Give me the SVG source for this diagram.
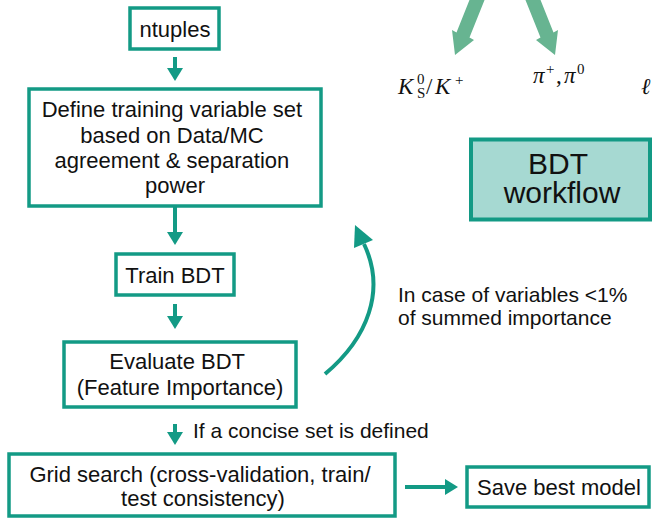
<svg xmlns="http://www.w3.org/2000/svg" width="652" height="518" viewBox="0 0 652 518">
  <style>
    .box { fill: #ffffff; stroke: #139a85; stroke-width: 3.5; }
    .title { fill: #a6d9d2; stroke: #139a85; stroke-width: 4; }
    .lbl { font-family: "Liberation Sans", Arial, sans-serif; font-size: 22px; fill: #111111; }
    .note { font-family: "Liberation Sans", Arial, sans-serif; font-size: 21px; fill: #111111; }
    .big { font-family: "Liberation Sans", Arial, sans-serif; font-size: 30px; fill: #111111; }
    .link { stroke: #139a85; stroke-width: 4; fill: none; }
    .math { font-family: "Liberation Serif", "DejaVu Serif", serif; font-size: 23px; fill: #111111; }
    .mi { font-style: italic; }
    .sm { font-size: 15px; }
    .decay { fill: #67b491; }
  </style>
  <defs>
    <marker id="head" markerUnits="userSpaceOnUse" markerWidth="14" markerHeight="18" refX="0" refY="9" orient="auto" overflow="visible">
      <path d="M0,1 L13,9 L0,17 z" fill="#139a85"/>
    </marker>
  </defs>

  <!-- decay arrows and final-state labels -->
  <g id="decay">
    <polygon class="decay" points="455,55 452,30 456.5,32.4 472.5,-7.6 485.5,-2.4 469.5,37.6 474,40"/>
    <polygon class="decay" points="555,55 558,30 553.5,32.4 537.5,-7.6 524.5,-2.4 540.5,37.6 536,40"/>
    <text class="math mi" x="398" y="94">K</text>
    <text class="math sm" x="417" y="84">0</text>
    <text class="math sm" x="417" y="98">S</text>
    <text class="math" x="426" y="94">/</text>
    <text class="math mi" x="435" y="94">K</text>
    <text class="math sm" x="455" y="85">+</text>
    <text class="math mi" x="533" y="83">π</text>
    <text class="math sm" x="546" y="74">+</text>
    <text class="math" x="556" y="83">,</text>
    <text class="math mi" x="564" y="83">π</text>
    <text class="math sm" x="577" y="74">0</text>
    <text class="math mi" x="641" y="94">ℓ</text>
  </g>

  <g id="ntuples">
    <rect class="box" x="130" y="8" width="89" height="41"/>
    <text class="lbl" x="175" y="37" text-anchor="middle">ntuples</text>
  </g>

  <g id="define">
    <rect class="box" x="29" y="89" width="292" height="117"/>
    <text class="lbl" text-anchor="middle">
      <tspan x="175" y="117">Define training variable set</tspan>
      <tspan x="175" y="143">based on Data/MC</tspan>
      <tspan x="175" y="168">agreement &amp; separation</tspan>
      <tspan x="175" y="193">power</tspan>
    </text>
  </g>

  <g id="train">
    <rect class="box" x="116" y="254" width="118" height="41"/>
    <text class="lbl" x="175" y="283" text-anchor="middle">Train BDT</text>
  </g>

  <g id="evaluate">
    <rect class="box" x="64" y="342" width="232" height="65"/>
    <text class="lbl" text-anchor="middle">
      <tspan x="180" y="369">Evaluate BDT</tspan>
      <tspan x="180" y="395">(Feature Importance)</tspan>
    </text>
  </g>

  <g id="grid">
    <rect class="box" x="9" y="454" width="386" height="62"/>
    <text class="lbl" text-anchor="middle">
      <tspan x="203" y="482">Grid search (cross-validation, train/</tspan>
      <tspan x="203" y="506">test consistency)</tspan>
    </text>
  </g>

  <g id="save">
    <rect class="box" x="467" y="467" width="182" height="40"/>
    <text class="lbl" x="477" y="495">Save best model</text>
  </g>

  <g id="workflow">
    <rect class="title" x="471" y="139.5" width="179" height="80"/>
    <text class="big" text-anchor="middle">
      <tspan x="562" y="174">BDT</tspan>
      <tspan x="562" y="203">workflow</tspan>
    </text>
  </g>

  <g id="connectors">
    <line class="link" x1="175" y1="57" x2="175" y2="68" marker-end="url(#head)"/>
    <line class="link" x1="175" y1="207" x2="175" y2="232" marker-end="url(#head)"/>
    <line class="link" x1="175" y1="304" x2="175" y2="316" marker-end="url(#head)"/>
    <line class="link" x1="175" y1="424" x2="175" y2="432" marker-end="url(#head)"/>
    <line class="link" x1="405" y1="487" x2="445" y2="487" marker-end="url(#head)"/>
    <path class="link" stroke-width="5" d="M325,374 C368,338 386,290 364,244"/>
    <polygon points="355,225 373,240 354,248" fill="#139a85"/>
    <text class="note" x="193" y="438">If a concise set is defined</text>
    <text class="note">
      <tspan x="398" y="302">In case of variables &lt;1%</tspan>
      <tspan x="398" y="325">of summed importance</tspan>
    </text>
  </g>
</svg>
